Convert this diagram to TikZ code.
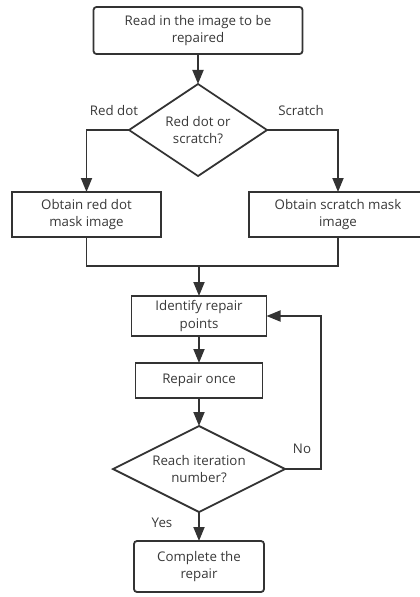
\documentclass[tikz,border=0pt]{standalone}
\usepackage{fontspec}
\setmainfont{Open Sans}
\usepackage{tikz}
\usetikzlibrary{positioning,shapes.geometric,arrows.meta}
\definecolor{linegray}{RGB}{51,51,51}
\definecolor{textgray}{RGB}{56,56,56}

\begin{document}
\begin{tikzpicture}[x=1pt, y=1pt,
            font=\fontsize{13.3}{17.5}\selectfont, text=textgray,
            box/.style={draw=linegray, line width=1.8pt, rectangle, align=center, inner sep=0pt, outer sep=0pt},
            startbox/.style={box, rounded corners=3pt},
            decision/.style={draw=linegray, line width=1.8pt, diamond, align=center, inner sep=0pt, outer sep=0pt},
            lbl/.style={inner sep=0pt},
            line/.style={draw=linegray, line width=1.8pt},
            arr/.style={line, -{Triangle[width=11pt,length=14pt]}}]
            \useasboundingbox (0,0) rectangle (420,-597);

            \node (read) [startbox, minimum width=209, minimum height=47] at (198,-30.5) {Read in the image to be\\repaired};
            \node (dec1) [decision, shape aspect=1.5, minimum width=138, minimum height=92, below=30 of read] {Red dot or\\scratch?};
            \node (redmask) [box, minimum width=149, minimum height=45] at (86.5,-214.5) {Obtain red dot\\mask image};
            \node (scratchmask) [box, minimum width=178, minimum height=45] at (338,-214.5) {Obtain scratch mask\\image};
            \coordinate (merge) at (199,-266);
            \node (identify) [box, minimum width=135, minimum height=40, below=30 of merge] {Identify repair\\points};
            \node (repair) [box, minimum width=127, minimum height=35, below=27 of identify] {Repair once};
            \node (dec2) [decision, shape aspect=2, minimum width=172, minimum height=86, below=28 of repair] {Reach iteration\\number?};
            \node (complete) [startbox, minimum width=130, minimum height=51, below=29 of dec2] {Complete the\\repair};

            \node (rdlbl) [lbl] at (114,-111) {Red dot};
            \node (sclbl) [lbl] at (301,-111) {Scratch};
            \node (nolbl) [lbl] at (302,-449) {No};
            \node (yeslbl) [lbl] at (162,-523) {Yes};

            \draw[arr] (read) -- (dec1);
            \draw[arr] (dec1.west) -| (redmask.north);
            \draw[arr] (dec1.east) -| (scratchmask.north);
            \draw[line] (redmask.south) |- (merge) -| (scratchmask.south);
            \draw[arr] (merge) -- (identify);
            \draw[arr] (identify) -- (repair);
            \draw[arr] (repair) -- (dec2);
            \draw[arr] (dec2) -- (complete);
            \draw[arr] (dec2.east) -- ++(36,0) |- (identify.east);
        \end{tikzpicture}
\end{document}
